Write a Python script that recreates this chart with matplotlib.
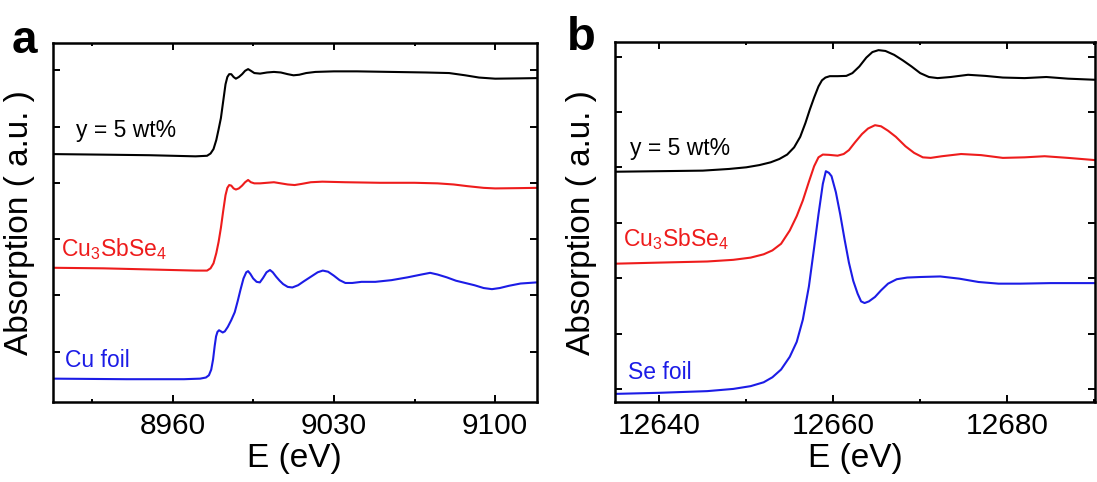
import numpy as np
import matplotlib.pyplot as plt
from matplotlib.ticker import MultipleLocator, NullFormatter

plt.rcParams['font.family'] = ['Liberation Sans', 'DejaVu Sans']
plt.rcParams['mathtext.fontset'] = 'custom'
plt.rcParams['mathtext.rm'] = 'Liberation Sans'
plt.rcParams['mathtext.it'] = 'Liberation Sans:italic'

# ---- panel a : Cu K-edge ----
cu_e_black = [8908, 8930, 8950, 8970, 8975, 8976.5, 8977.8, 8979, 8980, 8981, 8982, 8983,
              8983.8, 8984.6, 8985.5, 8986.5, 8987.5, 8988.8, 8990.2, 8991.5, 8992.8, 8994,
              8995.5, 8998, 9001, 9004, 9007, 9010, 9012.5, 9015, 9018, 9022, 9030, 9040,
              9055, 9070, 9080, 9087, 9093, 9100, 9110, 9118]
cu_black = [4.51, 4.50, 4.49, 4.47, 4.48, 4.52, 4.60, 4.76, 4.95, 5.15, 5.45, 5.75,
            5.88, 5.93, 5.93, 5.88, 5.85, 5.88, 5.93, 5.99, 6.02, 5.99,
            5.95, 5.94, 5.96, 5.97, 5.96, 5.93, 5.91, 5.92, 5.95, 5.97, 5.98, 5.98,
            5.97, 5.96, 5.95, 5.91, 5.87, 5.85, 5.855, 5.86]

cu_e_red = [8908, 8930, 8950, 8970, 8975, 8976.5, 8977.8, 8979, 8980, 8981, 8982, 8983,
            8983.8, 8984.6, 8985.5, 8986.5, 8987.5, 8988.8, 8990.2, 8991.5, 8992.8, 8994,
            8995.5, 8998, 9001, 9004, 9007, 9010, 9013, 9016, 9020, 9025, 9035, 9050,
            9065, 9075, 9082, 9088, 9095, 9100, 9110, 9118]
cu_red = [2.49, 2.48, 2.46, 2.44, 2.44, 2.48, 2.57, 2.75, 2.95, 3.20, 3.50, 3.78,
          3.91, 3.96, 3.95, 3.90, 3.88, 3.90, 3.95, 4.01, 4.05, 4.01,
          3.99, 3.99, 4.00, 4.01, 3.99, 3.97, 3.96, 3.98, 4.01, 4.02, 4.01, 4.00,
          4.00, 3.99, 3.97, 3.94, 3.91, 3.90, 3.905, 3.91]

cu_e_blue = [8908, 8940, 8965, 8972, 8974.5, 8975.8, 8976.8, 8977.6, 8978.3, 8978.9, 8979.5,
             8980.2, 8981, 8981.8, 8982.7, 8984, 8985.5, 8987, 8988.3, 8989.5, 8990.8, 8992,
             8992.8, 8993.8, 8995, 8996.5, 8997.9, 8999.3, 9000.8, 9002.3, 9003.5, 9005,
             9006.5, 9008, 9010, 9012, 9014.5, 9017, 9020, 9023, 9025.2, 9027.5, 9030,
             9032.5, 9035, 9038, 9042, 9048, 9055, 9062, 9068, 9071.8, 9075, 9079, 9083,
             9087, 9091, 9095, 9098.6, 9102, 9106, 9111, 9118]
cu_blue = [0.52, 0.51, 0.51, 0.52, 0.54, 0.58, 0.68, 0.86, 1.10, 1.27, 1.35,
           1.38, 1.36, 1.34, 1.36, 1.44, 1.56, 1.70, 1.90, 2.10, 2.30, 2.41,
           2.43, 2.38, 2.30, 2.24, 2.23, 2.31, 2.41, 2.45, 2.41, 2.33,
           2.26, 2.20, 2.15, 2.14, 2.18, 2.25, 2.33, 2.41, 2.44, 2.42, 2.35,
           2.27, 2.22, 2.22, 2.24, 2.24, 2.27, 2.32, 2.37, 2.40, 2.37, 2.32, 2.26,
           2.22, 2.18, 2.13, 2.11, 2.13, 2.17, 2.21, 2.23]

# ---- panel b : Se K-edge ----
se_e_black = [12634.85, 12640, 12645, 12648, 12650, 12651.5, 12652.8, 12653.8, 12654.7,
              12655.5, 12656.2, 12656.8, 12657.3, 12657.8, 12658.3, 12658.7, 12659.1, 12659.6,
              12660.5, 12661.5, 12662.2, 12663, 12663.8, 12664.5, 12665.2, 12666, 12667,
              12668, 12669, 12670, 12671, 12672, 12673.5, 12675.5, 12677.5, 12679.5, 12682,
              12684.5, 12687, 12690.1]
se_black = [4.92, 4.93, 4.94, 4.97, 5.00, 5.04, 5.09, 5.15, 5.23,
            5.36, 5.55, 5.80, 6.04, 6.26, 6.46, 6.57, 6.62, 6.645,
            6.645, 6.65, 6.70, 6.82, 6.98, 7.08, 7.115, 7.10, 7.03,
            6.93, 6.82, 6.70, 6.63, 6.61, 6.63, 6.67, 6.65, 6.62, 6.61,
            6.63, 6.60, 6.58]

se_e_red = [12634.85, 12640, 12645.5, 12648.5, 12650.5, 12652, 12653, 12654, 12655, 12655.8,
            12656.5, 12657.2, 12657.8, 12658.3, 12658.8, 12659.5, 12660.5, 12661.2, 12661.8,
            12662.5, 12663.3, 12664.0, 12664.8, 12665.5, 12666.3, 12667.2, 12668.3, 12669.3,
            12670.3, 12671.2, 12672.5, 12674.7, 12677, 12679.5, 12682, 12684.3, 12687, 12690.1]
se_red = [3.26, 3.28, 3.30, 3.33, 3.37, 3.43, 3.50, 3.62, 3.86, 4.12,
          4.40, 4.74, 5.02, 5.18, 5.23, 5.225, 5.21, 5.24, 5.31,
          5.45, 5.60, 5.70, 5.76, 5.74, 5.66, 5.55, 5.38, 5.26,
          5.18, 5.17, 5.20, 5.24, 5.22, 5.17, 5.18, 5.20, 5.17, 5.13]

se_e_blue = [12634.85, 12640, 12645.5, 12648.5, 12650.5, 12652, 12653, 12654, 12655, 12655.8,
             12656.5, 12657.2, 12657.8, 12658.3, 12658.8, 12659.15, 12659.5, 12659.8, 12660.3,
             12660.8, 12661.3, 12661.8, 12662.3, 12662.8, 12663.2, 12663.6, 12664.1, 12664.8,
             12665.5, 12666.3, 12667.3, 12668.5, 12670, 12672.3, 12674.5, 12676.7, 12679,
             12681.5, 12685, 12690.1]
se_blue = [0.91, 0.93, 0.96, 1.00, 1.05, 1.12, 1.21, 1.35, 1.58, 1.85,
           2.25, 2.85, 3.55, 4.15, 4.70, 4.93, 4.90, 4.84, 4.55,
           4.15, 3.70, 3.28, 2.95, 2.72, 2.58, 2.55, 2.58, 2.66,
           2.78, 2.90, 2.98, 3.01, 3.02, 3.03, 2.99, 2.93, 2.90,
           2.90, 2.91, 2.91]

black = 'black'
red = '#ee1c1c'
blue = '#1c1ce6'

fig = plt.figure(figsize=(10.97, 4.82), dpi=100)
ax1 = fig.add_axes([0.0480, 0.1654, 0.4412, 0.7461])
ax2 = fig.add_axes([0.5606, 0.1653, 0.4376, 0.7469])

ax1.plot(cu_e_black, cu_black, color=black, lw=1.5)
ax1.plot(cu_e_red, cu_red, color=red, lw=1.5)
ax1.plot(cu_e_blue, cu_blue, color=blue, lw=1.5)
ax1.set_xlim(8908, 9118)
ax1.set_ylim(0.1, 6.49)
ax1.xaxis.set_major_locator(MultipleLocator(70))
ax1.xaxis.set_minor_locator(MultipleLocator(35))
ax1.set_yticks([1, 2, 3, 4, 5, 6])

ax2.plot(se_e_black, se_black, color=black, lw=1.5)
ax2.plot(se_e_red, se_red, color=red, lw=1.5)
ax2.plot(se_e_blue, se_blue, color=blue, lw=1.5)
ax2.set_xlim(12634.9, 12690.1)
ax2.set_ylim(0.758, 7.256)
ax2.xaxis.set_major_locator(MultipleLocator(20))
ax2.xaxis.set_minor_locator(MultipleLocator(10))
ax2.set_yticks([1, 2, 3, 4, 5, 6, 7])

for ax in (ax1, ax2):
    for s in ax.spines.values():
        s.set_linewidth(1.8)
    ax.tick_params(which='both', direction='in', top=True, right=True, width=1.4)
    ax.tick_params(which='major', length=5, labelsize=21.5, pad=7)
    ax.tick_params(which='minor', length=2.5)
    ax.yaxis.set_major_formatter(NullFormatter())
    ax.set_xlabel('E (eV)', fontsize=24, labelpad=2)
    ax.set_ylabel('Absorption ( a.u. )', fontsize=24, labelpad=6)

fs = 16.5
ax1.text(0.048, 0.738, 'y = 5 wt%', color=black, fontsize=fs, transform=ax1.transAxes)
ax1.text(0.018, 0.407, r'Cu$_{\mathregular{3}}$SbSe$_{\mathregular{4}}$', color=red, fontsize=fs,
         transform=ax1.transAxes)
ax1.text(0.025, 0.099, 'Cu foil', color=blue, fontsize=fs, transform=ax1.transAxes)

ax2.text(0.031, 0.688, 'y = 5 wt%', color=black, fontsize=fs, transform=ax2.transAxes)
ax2.text(0.017, 0.433, r'Cu$_{\mathregular{3}}$SbSe$_{\mathregular{4}}$', color=red, fontsize=fs,
         transform=ax2.transAxes)
ax2.text(0.027, 0.065, 'Se foil', color=blue, fontsize=fs, transform=ax2.transAxes)

fig.text(12 / 1097, 1 - 53 / 482, 'a', fontsize=33, fontweight='bold')
fig.text(567 / 1097, 1 - 50 / 482, 'b', fontsize=34, fontweight='bold')

fig.savefig('out.png', dpi=100)
